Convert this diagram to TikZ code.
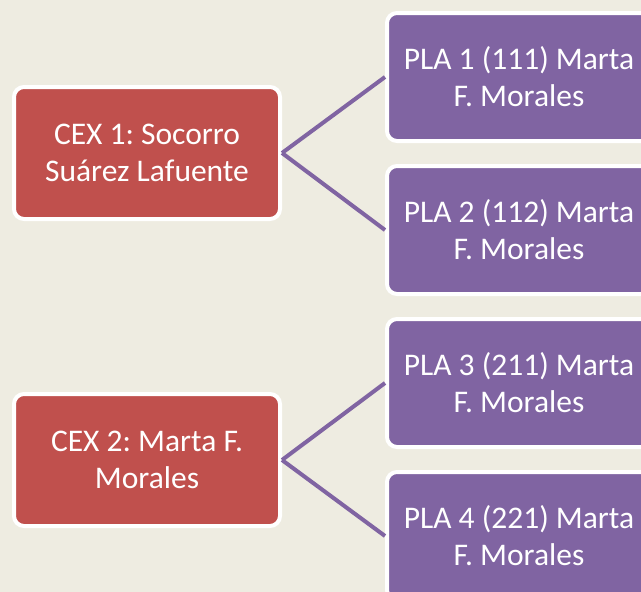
\documentclass[tikz,border=0pt]{standalone}
\usepackage{fontspec}
\setmainfont{Carlito}
\frenchspacing
\definecolor{bgc}{HTML}{EEECE1}
\definecolor{redc}{HTML}{C0504D}
\definecolor{purc}{HTML}{8064A2}
\begin{document}
\begin{tikzpicture}[x=1pt,y=-1pt,
  boxbase/.style={rectangle, rounded corners=10pt, draw=white, line width=4pt,
    text=white, align=center, inner sep=0pt,
    font=\fontsize{31.5}{37}\selectfont},
  cexbox/.style={boxbase, fill=redc, minimum width=266pt, minimum height=132pt},
  plabox/.style={boxbase, fill=purc, minimum width=264pt, minimum height=128pt},
  link/.style={draw=purc, line width=4pt}]
\useasboundingbox (0,0) rectangle (641,592);
\clip (0,0) rectangle (641,592);
\fill[bgc] (0,0) rectangle (641,592);
\node[cexbox] (c1) at (147,153) {CEX 1: Socorro\\Suárez Lafuente};
\node[cexbox] (c2) at (147,460) {CEX 2: Marta F.\\Morales};
\node[plabox] (p1) at (519,77) {PLA 1 (111) Marta\\F. Morales};
\node[plabox] (p2) at (519,230) {PLA 2 (112) Marta\\F. Morales};
\node[plabox] (p3) at (519,383) {PLA 3 (211) Marta\\F. Morales};
\node[plabox] (p4) at (519,536) {PLA 4 (221) Marta\\F. Morales};
\draw[link] (c1.east) -- (p1.west);
\draw[link] (c1.east) -- (p2.west);
\draw[link] (c2.east) -- (p3.west);
\draw[link] (c2.east) -- (p4.west);
\end{tikzpicture}
\end{document}
